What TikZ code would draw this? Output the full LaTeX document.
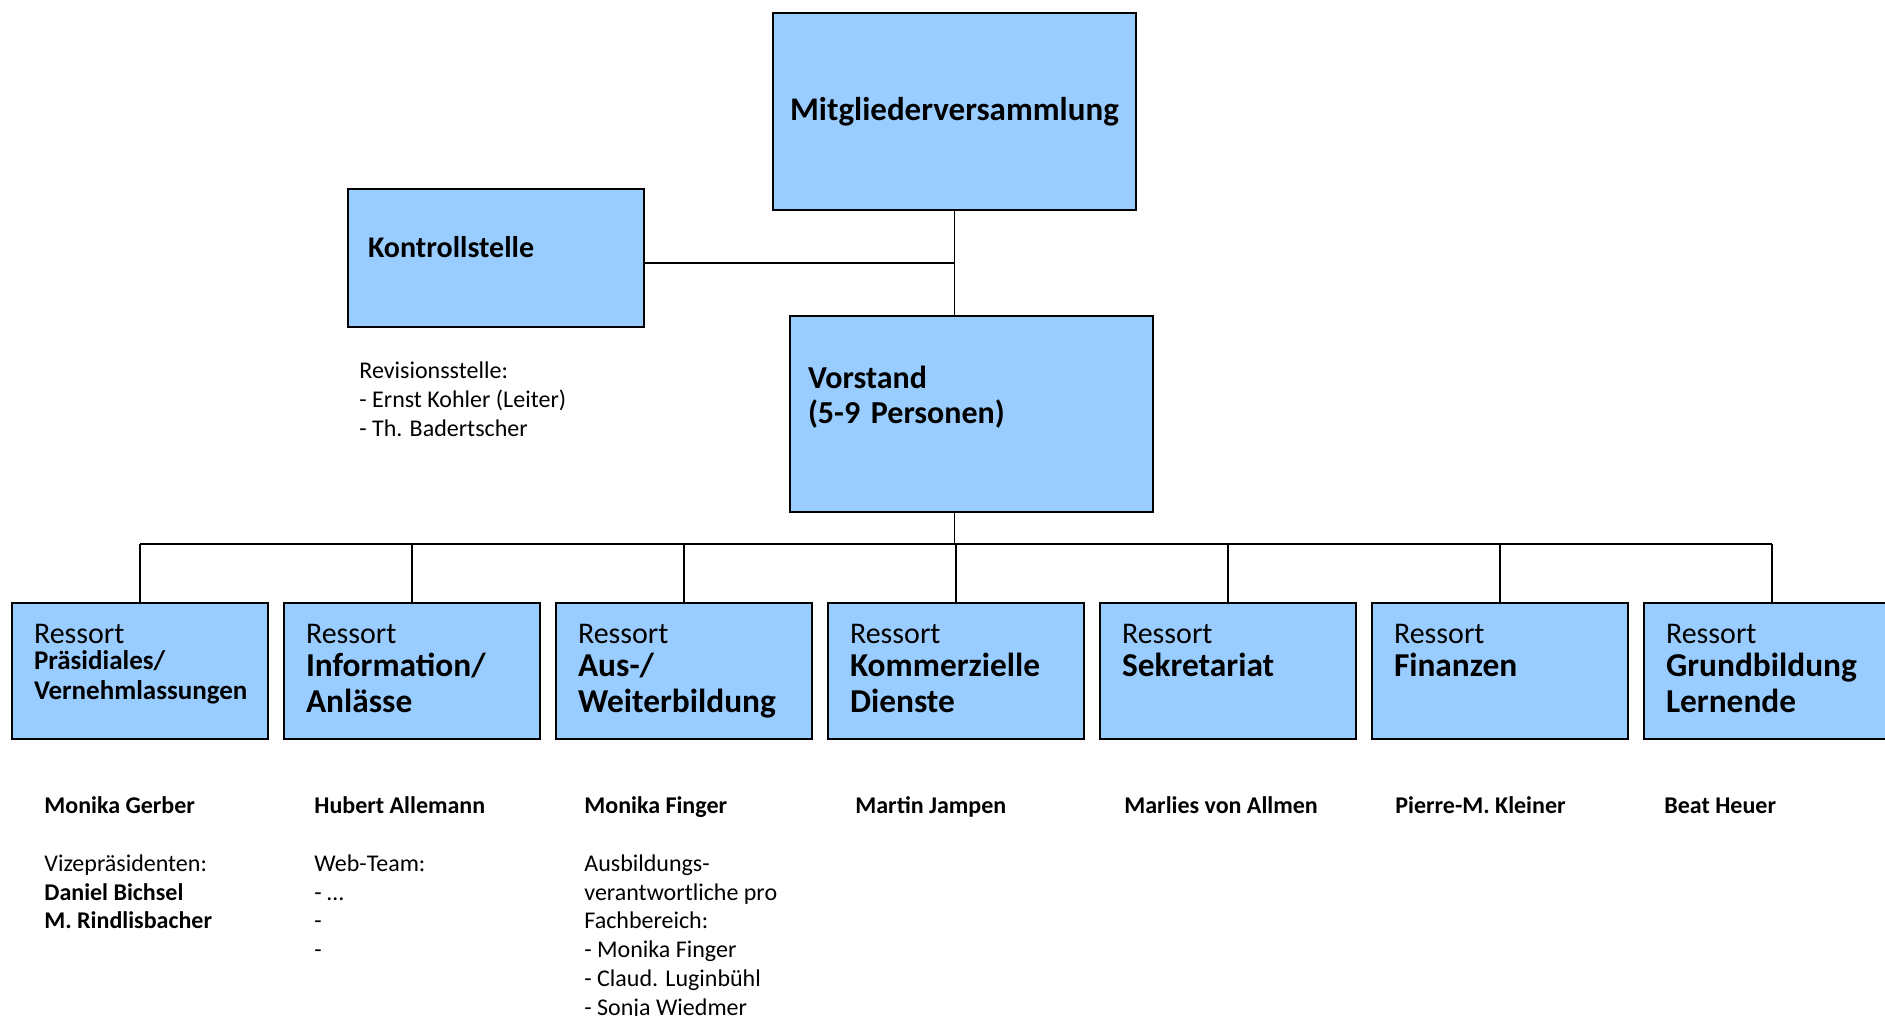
\documentclass[tikz,border=0pt]{standalone}
\usepackage{fontspec}
\setmainfont{Carlito}
\usepackage{xcolor}
\usetikzlibrary{positioning, calc}
\definecolor{boxblue}{HTML}{99CCFF}
\tikzstyle{topbox} = [rectangle, draw=black, line width=1pt, fill=boxblue, font=\fontsize{15}{17.5}\selectfont\bfseries]
\tikzstyle{ressort} = [rectangle, draw=black, line width=1pt, fill=boxblue, text width=106pt, inner xsep=11pt, inner ysep=0pt, align=left, text height=20pt, text depth=48pt, font=\fontsize{16.7}{18}\selectfont]
\tikzstyle{info} = [inner sep=0pt, align=left, font=\fontsize{12}{14.4}\selectfont, execute at begin node=\strut]
\tikzstyle{conn} = [line width=0.75pt]
\newcommand{\ressortword}{{\fontsize{15}{18}\selectfont Ressort}}

\begin{document}
\begin{tikzpicture}[x=0.5pt, y=-0.5pt]
\useasboundingbox (0,0) rectangle (1885,1016);

% Top level
\node (mv) [topbox, anchor=north west, minimum width=181.5pt, minimum height=98.5pt, font=\fontsize{16.5}{19}\selectfont\bfseries] at (772,12) {Mitgliederversammlung};
\node (ks) [topbox, anchor=north west, text width=128pt, inner xsep=10pt, inner ysep=0pt, align=left, text height=34.4pt, text depth=34.6pt] at (347,188) {Kontrollstelle};
\node (vs) [topbox, anchor=north west, text width=163.5pt, inner xsep=9pt, inner ysep=0pt, align=left, text height=36pt, text depth=62pt, font=\fontsize{16}{17.5}\selectfont\bfseries] at (789,315) {Vorstand\\(5-9 Personen)};

\node (rev) [info, below right=16.8pt and 6pt of ks.south west] {Revisionsstelle:\\- Ernst Kohler (Leiter)\\- Th. Badertscher};

% Ressorts
\node (r1) [ressort, anchor=north west] at (11,602) {\ressortword\\[-2pt]\fontsize{13.5}{15}\selectfont\textbf{Präsidiales/}\\[-3pt]\textbf{Vernehmlassungen}};
\node (r2) [ressort, right=7pt of r1] {\ressortword\\[-1.5pt]\textbf{Information/}\\\textbf{Anlässe}};
\node (r3) [ressort, right=7pt of r2] {\ressortword\\[-1.5pt]\textbf{Aus-/}\\\textbf{Weiterbildung}};
\node (r4) [ressort, right=7pt of r3] {\ressortword\\[-1.5pt]\textbf{Kommerzielle}\\\textbf{Dienste}};
\node (r5) [ressort, right=7pt of r4] {\ressortword\\[-1.5pt]\textbf{Sekretariat}};
\node (r6) [ressort, right=7pt of r5] {\ressortword\\[-1.5pt]\textbf{Finanzen}};
\node (r7) [ressort, right=7pt of r6] {\ressortword\\[-1.5pt]\textbf{Grundbildung}\\\textbf{Lernende}};

% People
\node (p1) [info, below right=28.2pt and 16.5pt of r1.south west] {\textbf{Monika Gerber}\\[14.4pt]Vizepräsidenten:\\\textbf{Daniel Bichsel}\\\textbf{M. Rindlisbacher}};
\node (p2) [info, below right=28.2pt and 15.5pt of r2.south west] {\textbf{Hubert Allemann}\\[14.4pt]Web-Team:\\- \dots\\-\\-};
\node (p3) [info, below right=28.2pt and 14.5pt of r3.south west] {\textbf{Monika Finger}\\[14.4pt]Ausbildungs-\\verantwortliche pro\\Fachbereich:\\- Monika Finger\\- Claud. Luginbühl\\- Sonja Wiedmer};
\node (p4) [info, below right=26.5pt and 14pt of r4.south west] {\textbf{Martin Jampen}};
\node (p5) [info, below right=26.5pt and 12.5pt of r5.south west] {\textbf{Marlies von Allmen}};
\node (p6) [info, below right=26.5pt and 12pt of r6.south west] {\textbf{Pierre-M. Kleiner}};
\node (p7) [info, below right=26.5pt and 10.5pt of r7.south west] {\textbf{Beat Heuer}};

% Lines
\coordinate (bus) at ($(vs.south -| mv.south)+(0,31)$);
\coordinate (ksjoin) at ($(ks.east)+(0,5)$);
\draw [conn] (mv.south) -- (mv.south |- vs.north);
\draw [conn] (ksjoin) -- (ksjoin -| mv.south);
\draw [conn] (vs.south -| mv.south) -- (bus);
\draw [conn] (bus -| r1.north) -- (bus -| r7.north);
\draw [conn] (bus -| r1.north) -- (r1.north);
\draw [conn] (bus -| r2.north) -- (r2.north);
\draw [conn] (bus -| r3.north) -- (r3.north);
\draw [conn] (bus -| r4.north) -- (r4.north);
\draw [conn] (bus -| r5.north) -- (r5.north);
\draw [conn] (bus -| r6.north) -- (r6.north);
\draw [conn] (bus -| r7.north) -- (r7.north);

\end{tikzpicture}
\end{document}
